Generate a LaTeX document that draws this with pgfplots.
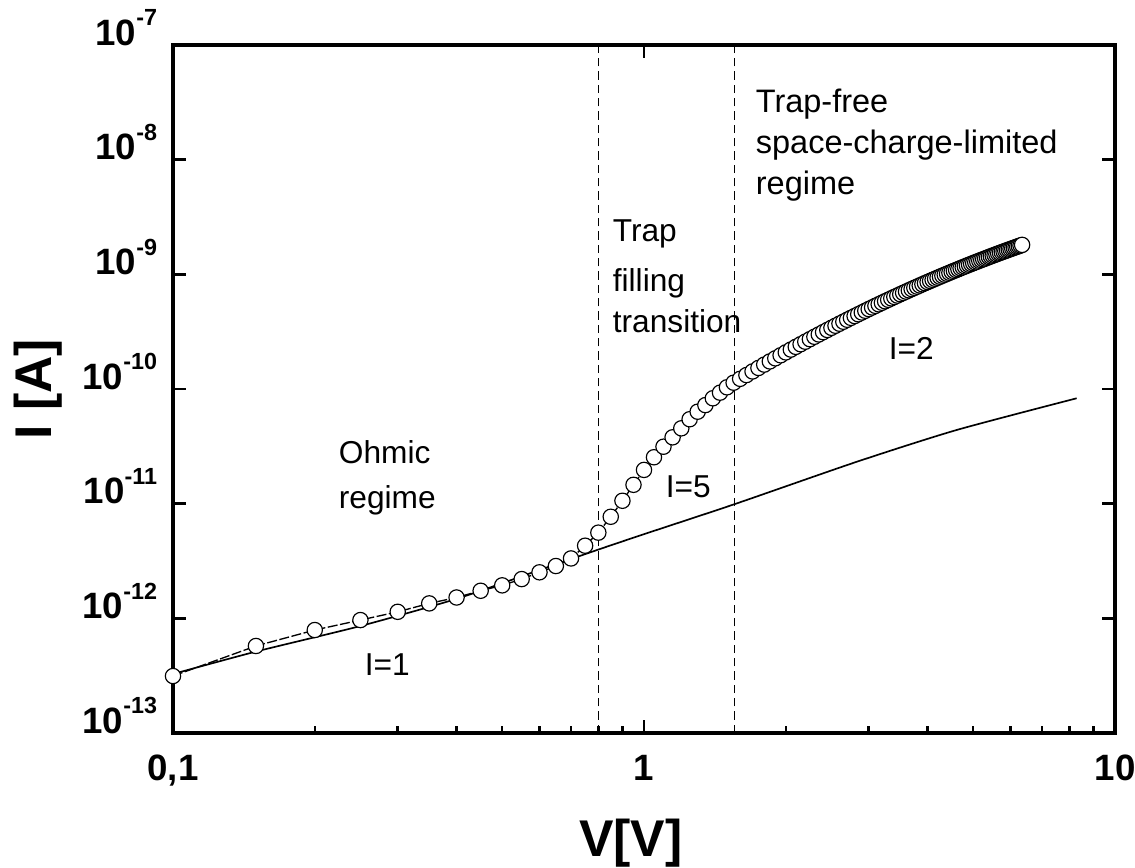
\documentclass[border=0pt]{standalone}
\usepackage{fontspec}
\setmainfont{Liberation Sans}
\usepackage{pgfplots}
\pgfplotsset{compat=1.18}
\newcommand{\tl}[1]{\textbf{10}\raisebox{11.5pt}{\fontsize{14}{14}\selectfont\bfseries #1}}

\pgfplotstableread{
V I
0.10 3.14e-13
0.15 5.74e-13
0.20 7.91e-13
0.25 9.66e-13
0.30 1.14e-12
0.35 1.35e-12
0.40 1.52e-12
0.45 1.74e-12
0.50 1.94e-12
0.55 2.20e-12
0.60 2.52e-12
0.65 2.86e-12
0.70 3.33e-12
0.75 4.30e-12
0.80 5.59e-12
0.85 7.69e-12
0.90 1.06e-11
0.95 1.46e-11
1.00 1.97e-11
1.05 2.54e-11
1.10 3.14e-11
1.15 3.79e-11
1.20 4.54e-11
1.25 5.45e-11
1.30 6.34e-11
1.35 7.24e-11
1.40 8.30e-11
1.45 9.29e-11
1.50 1.035e-10
1.55 1.135e-10
1.60 1.227e-10
1.65 1.323e-10
1.70 1.423e-10
1.75 1.526e-10
1.80 1.632e-10
1.85 1.740e-10
1.90 1.852e-10
1.95 1.968e-10
2.00 2.086e-10
2.05 2.207e-10
2.10 2.331e-10
2.15 2.458e-10
2.20 2.586e-10
2.25 2.719e-10
2.30 2.854e-10
2.35 2.990e-10
2.40 3.130e-10
2.45 3.272e-10
2.50 3.416e-10
2.55 3.563e-10
2.60 3.712e-10
2.65 3.863e-10
2.70 4.016e-10
2.75 4.172e-10
2.80 4.328e-10
2.85 4.488e-10
2.90 4.648e-10
2.95 4.811e-10
3.00 4.977e-10
3.05 5.142e-10
3.10 5.310e-10
3.15 5.480e-10
3.20 5.651e-10
3.25 5.824e-10
3.30 5.998e-10
3.35 6.173e-10
3.40 6.351e-10
3.45 6.529e-10
3.50 6.709e-10
3.55 6.890e-10
3.60 7.071e-10
3.65 7.254e-10
3.70 7.441e-10
3.75 7.626e-10
3.80 7.811e-10
3.85 8.000e-10
3.90 8.189e-10
3.95 8.380e-10
4.00 8.569e-10
4.05 8.761e-10
4.10 8.952e-10
4.15 9.146e-10
4.20 9.340e-10
4.25 9.535e-10
4.30 9.730e-10
4.35 9.927e-10
4.40 1.012e-9
4.45 1.032e-9
4.50 1.052e-9
4.55 1.072e-9
4.60 1.091e-9
4.65 1.111e-9
4.70 1.132e-9
4.75 1.152e-9
4.80 1.172e-9
4.85 1.192e-9
4.90 1.212e-9
4.95 1.232e-9
5.00 1.253e-9
5.05 1.273e-9
5.10 1.293e-9
5.15 1.314e-9
5.20 1.334e-9
5.25 1.354e-9
5.30 1.374e-9
5.35 1.395e-9
5.40 1.416e-9
5.45 1.436e-9
5.50 1.457e-9
5.55 1.477e-9
5.60 1.498e-9
5.65 1.519e-9
5.70 1.539e-9
5.75 1.560e-9
5.80 1.580e-9
5.85 1.601e-9
5.90 1.621e-9
5.95 1.642e-9
6.00 1.663e-9
6.05 1.683e-9
6.10 1.703e-9
6.15 1.724e-9
6.20 1.745e-9
6.25 1.765e-9
6.30 1.786e-9
6.35 1.807e-9
}\measured

\pgfplotstableread{
V I
0.10 3.27e-13
0.15 5.13e-13
0.25 8.57e-13
0.40 1.48e-12
0.60 2.64e-12
0.80 3.98e-12
1.00 5.42e-12
1.56 9.93e-12
2.83 2.32e-11
4.61 4.39e-11
8.29 8.30e-11
}\fitline

\begin{document}
\begin{tikzpicture}
\useasboundingbox (-103.8pt,-81pt) rectangle (577.2pt,439.8pt);
\begin{axis}[
  at={(0pt,0pt)}, anchor=south west,
  scale only axis, width=565.2pt, height=412.8pt,
  xmode=log, ymode=log,
  xmin=0.1, xmax=10, ymin=1e-13, ymax=1e-7,
  xtick={0.1,1,10}, xticklabels={{0,1},1,10},
  ytick={1e-13,1e-12,1e-11,1e-10,1e-9,1e-8,1e-7},
  yticklabels={\tl{-13},\tl{-12},\tl{-11},\tl{-10},\tl{-9},\tl{-8},\tl{-7}},
  yminorticks=false,
  xtick pos=left,
  tick align=inside,
  major tick length=8pt, minor tick length=4pt,
  every tick/.style={black, line width=1.5pt},
  axis line style={line width=2pt},
  tick label style={font=\fontsize{22}{26}\selectfont\bfseries},
  xticklabel style={anchor=base, yshift=-28.5pt},
  yticklabel style={anchor=base east, xshift=-6pt},
  xlabel={V[V]}, ylabel={I [A]},
  label style={font=\fontsize{31}{36}\selectfont\bfseries},
  xlabel style={at={(axis description cs:0.486,-0.1798)}, anchor=base},
  ylabel style={at={(axis description cs:-0.1288,0.5)}, anchor=base},
  clip=false,
  every node/.append style={inner sep=0pt},
]
\addplot[black, line width=0.8pt, dash pattern=on 6pt off 1.5pt,
  mark=*, mark size=4.6pt,
  mark options={solid, fill=white, draw=black, line width=0.7pt}]
  table[x=V, y=I] {\measured};
\addplot[black, line width=1pt, smooth, tension=0.4, no markers] table[x=V, y=I] {\fitline};
\addplot[black, line width=0.6pt, dash pattern=on 5pt off 3pt, no markers]
  coordinates {(0.8,1e-13) (0.8,1e-7)};
\addplot[black, line width=0.6pt, dash pattern=on 5pt off 3pt, no markers]
  coordinates {(1.56,1e-13) (1.56,1e-7)};
\draw[black, line width=1.5pt] (axis cs:1,1e-7) -- ([yshift=-8pt]axis cs:1,1e-7);

\node[anchor=base west, font=\fontsize{19}{22}\selectfont] at (rel axis cs:0.1699,0.3924) {Ohmic};
\node[anchor=base west, font=\fontsize{19}{22}\selectfont] at (rel axis cs:0.1699,0.3256) {regime};
\node[anchor=base west, font=\fontsize{19}{22}\selectfont] at (rel axis cs:0.1975,0.0843) {I=1};
\node[anchor=base west, font=\fontsize{19}{22}\selectfont] at (rel axis cs:0.5170,0.3430) {I=5};
\node[anchor=base west, font=\fontsize{19}{22}\selectfont] at (rel axis cs:0.7537,0.5422) {I=2};
\node[anchor=base west, font=\fontsize{19}{22}\selectfont] at (rel axis cs:0.4607,0.7137) {Trap};
\node[anchor=base west, font=\fontsize{19}{22}\selectfont] at (rel axis cs:0.4607,0.6410) {filling};
\node[anchor=base west, font=\fontsize{19}{22}\selectfont] at (rel axis cs:0.4607,0.5828) {transition};
\node[anchor=base west, font=\fontsize{19.5}{22}\selectfont] at (rel axis cs:0.6125,0.9012) {Trap-free};
\node[anchor=base west, font=\fontsize{19.5}{22}\selectfont] at (rel axis cs:0.6125,0.8430) {space-charge-limited};
\node[anchor=base west, font=\fontsize{19.5}{22}\selectfont] at (rel axis cs:0.6125,0.7820) {regime};
\end{axis}
\end{tikzpicture}
\end{document}
